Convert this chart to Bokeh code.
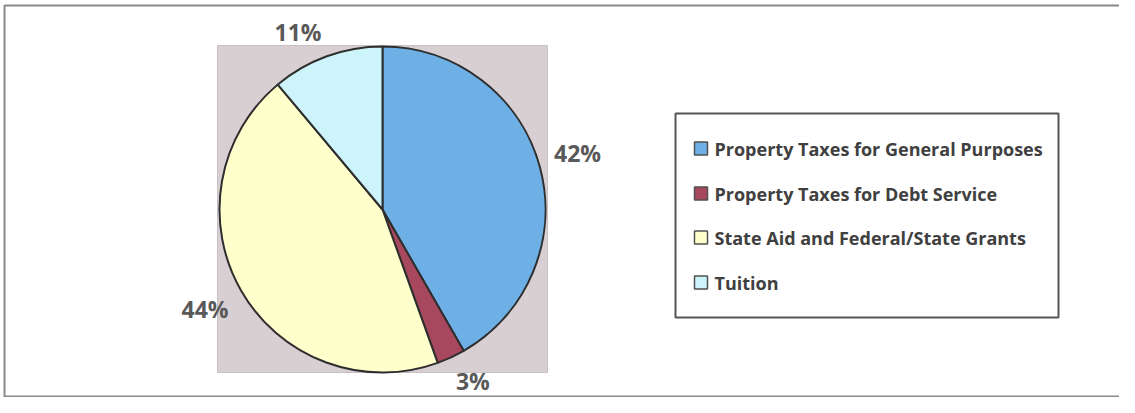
import numpy as np
from bokeh.plotting import figure
from bokeh.models import Range1d, ColumnDataSource
from bokeh.core.properties import value
from bokeh.embed import file_html
from bokeh.resources import INLINE

# ---- data ----
categories = ["Property Taxes for General Purposes", "Property Taxes for Debt Service",
              "State Aid and Federal/State Grants", "Tuition"]
shares = [41.7, 2.8, 44.4, 11.1]
labels = ["42%", "3%", "44%", "11%"]
colors = ["#6eb0e6", "#a8485f", "#ffffcc", "#cdf4fb"]

W, H = 1119, 397
p = figure(width=W, height=H, output_backend="svg", toolbar_location=None,
           x_range=Range1d(0, W), y_range=Range1d(0, H), min_border=0)
p.axis.visible = False
p.grid.visible = False
p.outline_line_color = None
p.background_fill_color = "white"
p.border_fill_color = "white"

# outer chart border
p.quad(left=[4], right=[W + 20], bottom=[1], top=[H - 5], fill_color=None,
       line_color="#8a8a8a", line_width=2)

# plot area
cx, cy, r = 382, 188, 163
p.quad(left=[cx - 165], right=[cx + 165], bottom=[cy - 163], top=[cy + 164],
       fill_color="#d7cfd1", line_color="#c8c0c2", line_width=1)

# pie
frac = np.array(shares) / np.sum(shares)
cum = np.concatenate([[0], np.cumsum(frac)])
start = np.pi / 2 - 2 * np.pi * cum[:-1]
end = np.pi / 2 - 2 * np.pi * cum[1:]
src = ColumnDataSource(dict(start=start, end=end, color=colors, cat=categories))
p.wedge(x=cx, y=cy, radius=r, start_angle="start", end_angle="end", direction="clock",
        fill_color="color", line_color="#2e2e2e", line_width=2, source=src)

# data labels (outside end: label box touches a point beyond the rim)
mid = np.pi / 2 - 2 * np.pi * (cum[:-1] + frac / 2)
d = 177
hw = np.array([8.0 * len(s) for s in labels])
hh = 11.0
lx = cx + d * np.cos(mid) + hw * np.sign(np.cos(mid))
ly = cy + d * np.sin(mid) + hh * np.sign(np.sin(mid))
p.text(x=lx, y=ly, text=labels, text_font=value("Open Sans"), text_font_style="bold",
       text_font_size="23px", text_color="#595959", text_align="center",
       text_baseline="middle")

# legend
lg_left, lg_right, lg_bottom, lg_top = 675, 1058, 80, 284
p.quad(left=[lg_left], right=[lg_right], bottom=[lg_bottom], top=[lg_top],
       fill_color="white", line_color="#555555", line_width=2)
row_y = np.array([249, 204, 160, 115])
p.scatter(x=[700.5] * 4, y=row_y, marker="square", size=13, fill_color=colors,
          line_color="#505050", line_width=1.5)
p.text(x=[714] * 4, y=row_y, text=categories, text_font=value("Open Sans"),
       text_font_style="bold", text_font_size="18px", text_color="#404040",
       text_align="left", text_baseline="middle")

open("out.html", "w").write(file_html(p, INLINE))
